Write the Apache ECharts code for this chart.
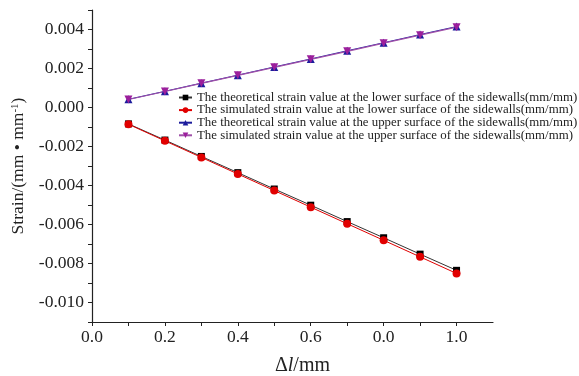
<!DOCTYPE html>
<html>
<head>
<meta charset="utf-8">
<script src="https://cdn.jsdelivr.net/npm/echarts@6/dist/echarts.min.js"></script>
<style>
  html, body { margin: 0; padding: 0; background: #fff; }
  #chart { width: 579px; height: 376px; }
</style>
</head>
<body>
<div id="chart"></div>
<script>
const xValues = [0.1, 0.2, 0.3, 0.4, 0.5, 0.6, 0.7, 0.8, 0.9, 1.0]
const lowerTheory = [-0.00084, -0.00167, -0.00251, -0.00334, -0.00418, -0.00501, -0.00585, -0.00668, -0.00752, -0.00835]
const lowerSim = [-0.00086, -0.00171, -0.00256, -0.00341, -0.00426, -0.00511, -0.00596, -0.00681, -0.00766, -0.00851]
const upperTheory = [0.00042, 0.00083, 0.00125, 0.00166, 0.00208, 0.00249, 0.00291, 0.00332, 0.00374, 0.00415]
const upperSim = [0.00041, 0.00082, 0.00124, 0.00165, 0.00206, 0.00247, 0.00288, 0.00330, 0.00371, 0.00412]

const seriesNames = [
  'The theoretical strain value at the lower surface of the sidewalls(mm/mm)',
  'The simulated strain value at the lower surface of the sidewalls(mm/mm)',
  'The theoretical strain value at the upper surface of the sidewalls(mm/mm)',
  'The simulated strain value at the upper surface of the sidewalls(mm/mm)'
]

// tick labels as printed in the figure (the 0.8 one really reads 0.0)
const xTickValues = [0, 0.2, 0.4, 0.6, 0.8, 1.0]
const xTickText = ['0.0', '0.2', '0.4', '0.6', '0.0', '1.0']
const yTickValues = [-0.010, -0.008, -0.006, -0.004, -0.002, 0, 0.002, 0.004]
const yTickText = ['-0.010', '-0.008', '-0.006', '-0.004', '-0.002', '0.000', '0.002', '0.004']

const font = 'Liberation Serif'

function lookup(values, texts, v) {
  for (let i = 0; i < values.length; i++) {
    if (Math.abs(values[i] - v) < 1e-7) return texts[i]
  }
  return ''
}

const pairs = arr => xValues.map((x, i) => [x, arr[i]])

const chart = echarts.init(document.getElementById('chart'), null, { renderer: 'canvas' })

const option = {
  backgroundColor: '#fff',
  animation: false,
  grid: { left: 92, right: 86, top: 10, bottom: 54, outerBoundsMode: 'none' },
  legend: {
    orient: 'vertical',
    left: 173,
    top: 86,
    itemGap: -0.4,
    itemWidth: 13,
    itemHeight: 7,
    textStyle: { fontFamily: font, fontSize: 12.85, color: '#222', lineHeight: 12 },
    data: seriesNames
  },
  xAxis: {
    type: 'value',
    min: 0,
    max: 1.1,
    interval: 0.1,
    splitLine: { show: false },
    axisLine: { onZero: false, lineStyle: { color: '#222', width: 1.2 } },
    axisTick: { length: 4, lineStyle: { color: '#222' } },
    axisLabel: {
      interval: 0,
      margin: 6,
      fontFamily: font,
      fontSize: 17.5,
      color: '#222',
      showMaxLabel: false,
      formatter: v => lookup(xTickValues, xTickText, v)
    },
    name: '{a|Δ}{i|l}{a|/mm}',
    nameLocation: 'middle',
    nameGap: 34,
    nameTextStyle: {
      padding: [0, 0, 0, 20],
      rich: {
        a: { fontFamily: font, fontSize: 20, color: '#222' },
        i: { fontFamily: font, fontSize: 20, color: '#222', fontStyle: 'italic' }
      }
    }
  },
  yAxis: {
    type: 'value',
    min: -0.011,
    max: 0.005,
    interval: 0.001,
    splitLine: { show: false },
    axisLine: { show: true, onZero: false, lineStyle: { color: '#222', width: 1.2 } },
    axisTick: { show: true, length: 4, lineStyle: { color: '#222' } },
    axisLabel: {
      interval: 0,
      margin: 8,
      fontFamily: font,
      fontSize: 17.5,
      color: '#222',
      formatter: v => lookup(yTickValues, yTickText, v)
    },
    name: '{a|Strain/(mm • mm}{s|-1}{a|)}',
    nameLocation: 'middle',
    nameRotate: 90,
    nameGap: 61,
    nameTextStyle: {
      rich: {
        a: { fontFamily: font, fontSize: 17.5, color: '#222' },
        s: { fontFamily: font, fontSize: 11, color: '#222', padding: [0, 0, 8, 0] }
      }
    }
  },
  series: [
    {
      name: seriesNames[0],
      type: 'line',
      data: pairs(lowerTheory),
      symbol: 'rect',
      symbolSize: 7,
      itemStyle: { color: '#000' },
      lineStyle: { color: '#333', width: 1 }
    },
    {
      name: seriesNames[1],
      type: 'line',
      data: pairs(lowerSim),
      symbol: 'circle',
      symbolSize: 8,
      itemStyle: { color: '#e10000' },
      lineStyle: { color: '#e10000', width: 1 }
    },
    {
      name: seriesNames[2],
      type: 'line',
      data: pairs(upperTheory),
      symbol: 'triangle',
      symbolSize: 8,
      itemStyle: { color: '#1c1c9c' },
      lineStyle: { color: '#1c1c9c', width: 1 }
    },
    {
      name: seriesNames[3],
      type: 'line',
      data: pairs(upperSim),
      symbol: 'triangle',
      symbolRotate: 180,
      symbolSize: 8,
      itemStyle: { color: '#9c1f9c' },
      lineStyle: { color: '#a050a8', width: 1.2 }
    }
  ]
}

chart.setOption(option)
</script>
</body>
</html>
